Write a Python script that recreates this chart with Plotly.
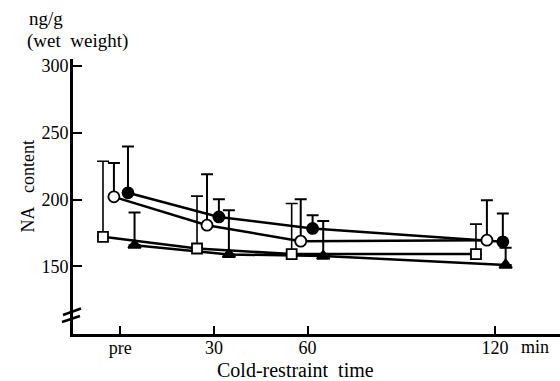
import plotly.graph_objects as go

# ---- data (minutes; markers are offset around each time point as in the figure) ----
tick_vals = [0, 30, 60, 120]
tick_text = ["pre", "30", "60", "120"]
y_tick_vals = [150, 200, 250, 300]

x_filled_circle = [2.5, 31.6, 61.6, 122.5]
y_filled_circle = [205, 187, 178.4, 168.4]
e_filled_circle = [34.6, 13.2, 9.9, 21.2]

x_open_circle = [-2.0, 27.8, 57.8, 117.4]
y_open_circle = [202, 180.8, 168.9, 169.6]
e_open_circle = [25.3, 38.1, 31.3, 29.9]

x_open_square = [-5.5, 24.6, 54.9, 113.9]
y_open_square = [172.1, 163.4, 159.2, 159.2]
e_open_square = [56.5, 39.1, 37.8, 22.4]

x_triangle = [4.6, 34.8, 65.0, 123.4]
y_triangle = [165.9, 159.0, 157.7, 151.0]
e_triangle = [24.4, 33.0, 26.3, 12.9]

W, H = 560, 381
ML, MR, MT, MB = 73, 0, 59, 47
PW, PH = W - ML - MR, H - MT - MB
FONT = "Liberation Serif, Times New Roman, DejaVu Serif, serif"


def px(xp):
    return (xp - ML) / PW


def py(yp):
    return (H - MB - yp) / PH


series = [
    (x_open_square, y_open_square, e_open_square, "square", "white", 10, 1.6),
    (x_open_circle, y_open_circle, e_open_circle, "circle", "white", 11, 2),
    (x_filled_circle, y_filled_circle, e_filled_circle, "circle", "black", 11, 2),
    (x_triangle, y_triangle, e_triangle, "triangle-up", "black", 11, 2),
]

fig = go.Figure()
for xs, ys, es, sym, fill, sz, eth in series:
    fig.add_trace(go.Scatter(
        x=xs, y=ys, mode="lines",
        line=dict(color="black", width=2.5),
        error_y=dict(type="data", symmetric=False, array=es,
                     arrayminus=[0] * len(es), color="black",
                     thickness=eth, width=6),
        showlegend=False, hoverinfo="skip",
    ))
for xs, ys, es, sym, fill, sz, eth in series:
    fig.add_trace(go.Scatter(
        x=xs, y=ys, mode="markers",
        marker=dict(symbol=sym, size=sz, color=fill,
                    line=dict(color="black", width=1.8)),
        showlegend=False,
    ))

shapes = []
for (xa, ya, xb, yb) in [(62, 322, 80, 316), (63, 315, 81, 308.5)]:
    shapes.append(dict(type="line", xref="paper", yref="paper",
                       x0=px(xa), y0=py(ya), x1=px(xb), y1=py(yb),
                       line=dict(color="black", width=2.5)))

annotations = [
    dict(text="ng/g", x=px(27), y=py(19), xref="paper", yref="paper",
         xanchor="left", yanchor="middle", showarrow=False,
         font=dict(family=FONT, size=19, color="black")),
    dict(text="(wet\u00a0\u00a0weight)", x=px(25), y=py(41), xref="paper", yref="paper",
         xanchor="left", yanchor="middle", showarrow=False,
         font=dict(family=FONT, size=19, color="black")),
    dict(text="NA\u00a0\u00a0\u00a0content", x=px(27.5), y=py(187), xref="paper", yref="paper",
         xanchor="center", yanchor="middle", showarrow=False, textangle=-90,
         font=dict(family=FONT, size=18, color="black")),
    dict(text="Cold-restraint\u00a0\u00a0time", x=px(295), y=py(370), xref="paper", yref="paper",
         xanchor="center", yanchor="middle", showarrow=False,
         font=dict(family=FONT, size=20, color="black")),
    dict(text="min", x=px(535), y=py(346.5), xref="paper", yref="paper",
         xanchor="center", yanchor="middle", showarrow=False,
         font=dict(family=FONT, size=18, color="black")),
]

fig.update_layout(
    width=W, height=H,
    margin=dict(l=ML, r=MR, t=MT, b=MB),
    paper_bgcolor="white", plot_bgcolor="white",
    font=dict(family=FONT, size=17, color="black"),
    xaxis=dict(range=[-15.1, 140.8], tickvals=tick_vals, ticktext=tick_text,
               tickfont=dict(family=FONT, size=18, color="black"),
               showline=True, linecolor="black", linewidth=3,
               ticks="inside", ticklen=8, tickwidth=2, tickcolor="black",
               ticklabelstandoff=-5,
               showgrid=False, zeroline=False),
    yaxis=dict(range=[99.5, 305], tickvals=y_tick_vals,
               tickfont=dict(family=FONT, size=18, color="black"),
               showline=True, linecolor="black", linewidth=3,
               ticks="inside", ticklen=9, tickwidth=2, tickcolor="black",
               ticklabelstandoff=-2,
               showgrid=False, zeroline=False),
    shapes=shapes,
    annotations=annotations,
)

fig.write_html("out.html", config={"displayModeBar": False},
               post_script="document.body.style.margin='0';")
